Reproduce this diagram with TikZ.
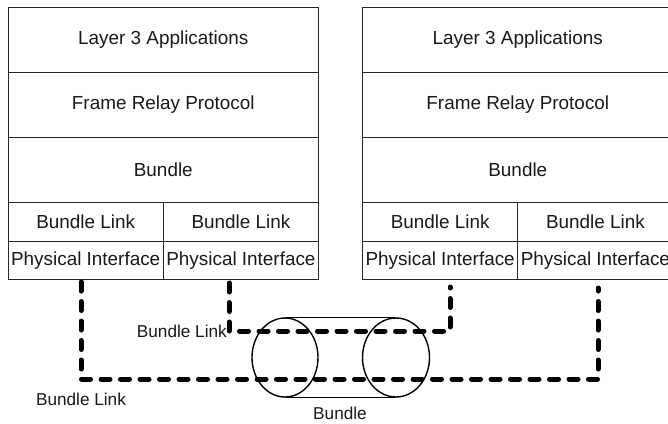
\documentclass[tikz,border=0pt]{standalone}
\usepackage{fontspec}
\setmainfont{Liberation Sans}
\usetikzlibrary{shapes.geometric}
\begin{document}
\begin{tikzpicture}[x=1pt,y=-1pt,
  cell/.style={draw=black!85, line width=1.1pt, rectangle, inner sep=0pt, anchor=north west,
    font=\fontsize{18.9}{22}\selectfont, text=black!90},
  wide/.style={cell, minimum width=310.5pt, minimum height=65pt},
  half/.style={cell, minimum width=155.25pt, minimum height=38.5pt},
  link/.style={line width=5pt, line cap=round, line join=round, dash pattern=on 9pt off 10.5pt},
  lbl/.style={font=\fontsize{17.2}{20}\selectfont, text=black!90, inner sep=0pt},
  pipe/.style={line width=1.4pt, draw=black}]
\useasboundingbox (0,0) rectangle (668,423);
\begin{scope}
\clip (0,0) rectangle (668,423);
% left stack
\node[wide] (LA) at (7.5,7) {Layer 3 Applications};
\node[wide] (LF) at (7.5,72) {Frame Relay Protocol};
\node[wide] (LB) at (7.5,137) {Bundle};
\node[half] (LL1) at (7.5,202) {Bundle Link};
\node[half] (LL2) at (162.75,202) {Bundle Link};
\node[half] (LP1) at (7.5,240.5) {Physical Interface};
\node[half] (LP2) at (162.75,240.5) {Physical Interface};
% right stack
\node[wide] (RA) at (362,7) {Layer 3 Applications};
\node[wide] (RF) at (362,72) {Frame Relay Protocol};
\node[wide] (RB) at (362,137) {Bundle};
\node[half] (RL1) at (362,202) {Bundle Link};
\node[half] (RL2) at (517.25,202) {Bundle Link};
\node[half] (RP1) at (362,240.5) {Physical Interface};
\node[half] (RP2) at (517.25,240.5) {Physical Interface};
\end{scope}
% bundle (cylinder)
\node[pipe, draw, ellipse, minimum width=66pt, minimum height=79pt, inner sep=0pt] (E1) at (285,357.5) {};
\node[pipe, draw, ellipse, minimum width=67pt, minimum height=79pt, inner sep=0pt] (E2) at (396,357.5) {};
\draw[pipe] (E1.north) -- (E2.north);
\draw[pipe] (E1.south) -- (E2.south);
% dashed links
\coordinate (o1) at (81,282);
\coordinate (o2) at (598,288);
\coordinate (i1) at (229,283);
\coordinate (i2) at (450,287);
\draw[link] (o1) -- (81,379) -- (598,379) -- (o2);
\draw[link] (i1) -- (229,331) -- (450,331) -- (i2);
% labels
\node[lbl, anchor=east] (t1) at (227,331) {Bundle Link};
\node[lbl] (t2) at (81,399) {Bundle Link};
\node[lbl] (t3) at (340,413) {Bundle};
\end{tikzpicture}
\end{document}
